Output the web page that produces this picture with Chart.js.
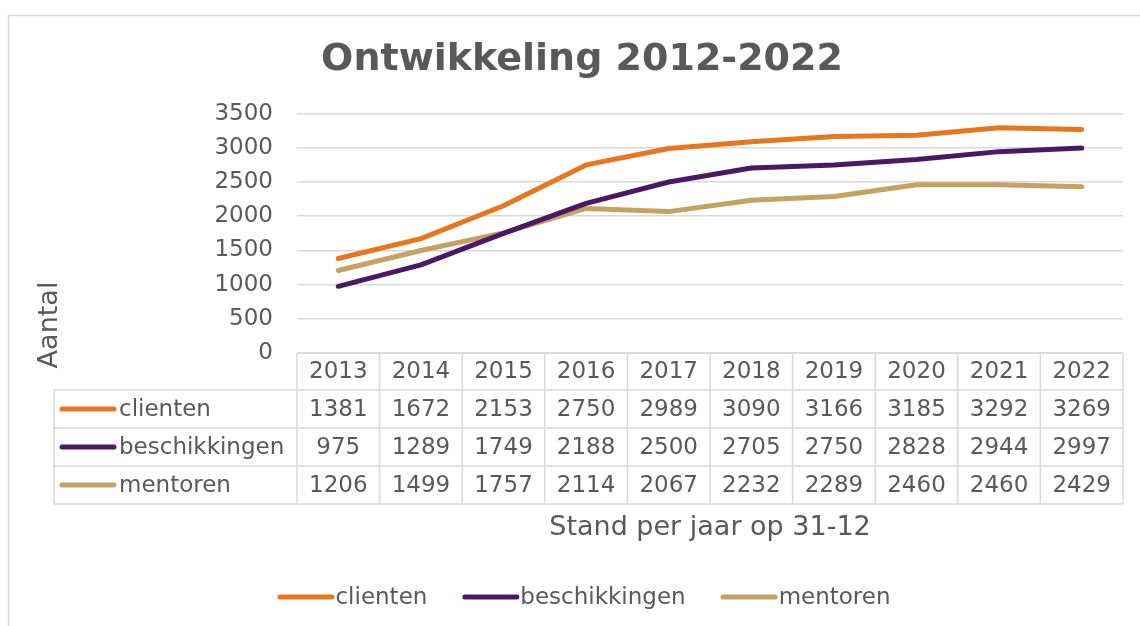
<!DOCTYPE html>
<html>
<head>
<meta charset="utf-8">
<script src="https://cdn.jsdelivr.net/npm/chart.js@4/dist/chart.umd.min.js"></script>
<style>
  html, body { margin: 0; padding: 0; background: #fff; }
  #wrap { width: 1140px; height: 626px; }
</style>
</head>
<body>
<div id="wrap"><canvas id="c"></canvas></div>
<script>
const years = ['2013', '2014', '2015', '2016', '2017', '2018', '2019', '2020', '2021', '2022'];
const clienten = [1381, 1672, 2153, 2750, 2989, 3090, 3166, 3185, 3292, 3269];
const beschikkingen = [975, 1289, 1749, 2188, 2500, 2705, 2750, 2828, 2944, 2997];
const mentoren = [1206, 1499, 1757, 2114, 2067, 2232, 2289, 2460, 2460, 2429];
const seriesNames = ['clienten', 'beschikkingen', 'mentoren'];
const seriesColours = ['#E8761C', '#4B1868', '#C4A262'];

const textColour = '#595959';
const lineGrey = '#D9D9D9';
const family = "'DejaVu Sans', Verdana, sans-serif";

Chart.defaults.font.family = family;
Chart.defaults.color = textColour;

// data table under the plot, columns taken from the x scale, plus axis titles and legend
const dataTable = {
  id: 'dataTable',
  beforeDraw(chart) {
    const ctx = chart.ctx;
    ctx.save();
    ctx.strokeStyle = lineGrey;
    ctx.lineWidth = 1.5;
    ctx.strokeRect(8.5, 15.5, 1200, 800);
    ctx.restore();
  },
  afterDraw(chart) {
    const ctx = chart.ctx;
    const x = chart.scales.x;
    const area = chart.chartArea;
    const colW = x.getPixelForValue(1) - x.getPixelForValue(0);
    const top = area.bottom;
    const headH = 37, rowH = 38;
    const labelLeft = 54;
    const rows = [clienten, beschikkingen, mentoren];
    const bottom = top + headH + rowH * rows.length;

    ctx.save();
    ctx.strokeStyle = lineGrey;
    ctx.lineWidth = 1.5;
    ctx.beginPath();
    ctx.moveTo(area.left, top); ctx.lineTo(area.right, top);
    for (let r = 0; r <= rows.length; r++) {
      const y = top + headH + r * rowH;
      ctx.moveTo(labelLeft, y); ctx.lineTo(area.right, y);
    }
    ctx.moveTo(labelLeft, top + headH); ctx.lineTo(labelLeft, bottom);
    for (let i = 0; i <= years.length; i++) {
      const xx = area.left + i * colW;
      ctx.moveTo(xx, top); ctx.lineTo(xx, bottom);
    }
    ctx.stroke();

    ctx.fillStyle = textColour;
    ctx.font = '23px ' + family;
    ctx.textAlign = 'center';
    ctx.textBaseline = 'middle';
    years.forEach((yr, i) => {
      ctx.fillText(yr, x.getPixelForValue(i), top + headH / 2 + 1);
    });
    rows.forEach((vals, r) => {
      const cy = top + headH + r * rowH + rowH / 2 + 1;
      vals.forEach((v, i) => {
        ctx.fillText(String(v), x.getPixelForValue(i), cy);
      });
    });

    // row labels with line keys
    ctx.textAlign = 'left';
    ctx.lineCap = 'round';
    ctx.lineWidth = 5;
    seriesNames.forEach((name, r) => {
      const cy = top + headH + r * rowH + rowH / 2;
      ctx.strokeStyle = seriesColours[r];
      ctx.beginPath();
      ctx.moveTo(62, cy); ctx.lineTo(114, cy);
      ctx.stroke();
      ctx.fillText(name, 119, cy + 1);
    });

    // legend at the bottom
    const keyW = 52, keyGap = 6, itemGap = 35, legendY = 597;
    const widths = seriesNames.map((n) => keyW + keyGap + ctx.measureText(n).width);
    const total = widths.reduce((a, b) => a + b, 0) + itemGap * (widths.length - 1);
    let lx = 584 - total / 2;
    seriesNames.forEach((name, i) => {
      ctx.strokeStyle = seriesColours[i];
      ctx.beginPath();
      ctx.moveTo(lx + 2.5, legendY); ctx.lineTo(lx + 2.5 + keyW, legendY);
      ctx.stroke();
      ctx.fillText(name, lx + keyW + keyGap, legendY + 1);
      lx += widths[i] + itemGap;
    });

    // axis titles
    ctx.textAlign = 'center';
    ctx.font = '27px ' + family;
    ctx.fillText('Stand per jaar op 31-12', (area.left + area.right) / 2, 528);
    ctx.translate(50, 325);
    ctx.rotate(-Math.PI / 2);
    ctx.fillText('Aantal', 0, 0);
    ctx.restore();
  }
};

const datasets = [clienten, beschikkingen, mentoren].map((vals, i) => ({
  label: seriesNames[i],
  data: vals,
  borderColor: seriesColours[i],
  backgroundColor: seriesColours[i],
  borderWidth: 5,
  borderCapStyle: 'round',
  borderJoinStyle: 'round',
  pointRadius: 0,
  tension: 0
}));

new Chart(document.getElementById('c'), {
  type: 'line',
  data: { labels: years, datasets: datasets },
  plugins: [dataTable],
  options: {
    responsive: true,
    maintainAspectRatio: false,
    animation: false,
    layout: { padding: { left: 41, right: 17, top: 0, bottom: 0 } },
    plugins: {
      title: {
        display: true,
        text: 'Ontwikkeling 2012-2022',
        color: textColour,
        font: { size: 38, weight: 'bold' },
        padding: { top: 37, bottom: 31 }
      },
      legend: { display: false },
      tooltip: { enabled: false }
    },
    scales: {
      x: {
        offset: true,
        grid: { display: false },
        border: { display: false },
        ticks: { display: false },
        afterFit(scale) { scale.height = 273; }
      },
      y: {
        min: 0,
        max: 3500,
        ticks: {
          stepSize: 500,
          padding: 24,
          font: { size: 23 },
          color: textColour,
          callback: (v) => String(v)
        },
        grid: { color: lineGrey, lineWidth: 1.5, drawTicks: false },
        border: { display: false },
        afterFit(scale) { scale.width = 256; }
      }
    }
  }
});
</script>
</body>
</html>
